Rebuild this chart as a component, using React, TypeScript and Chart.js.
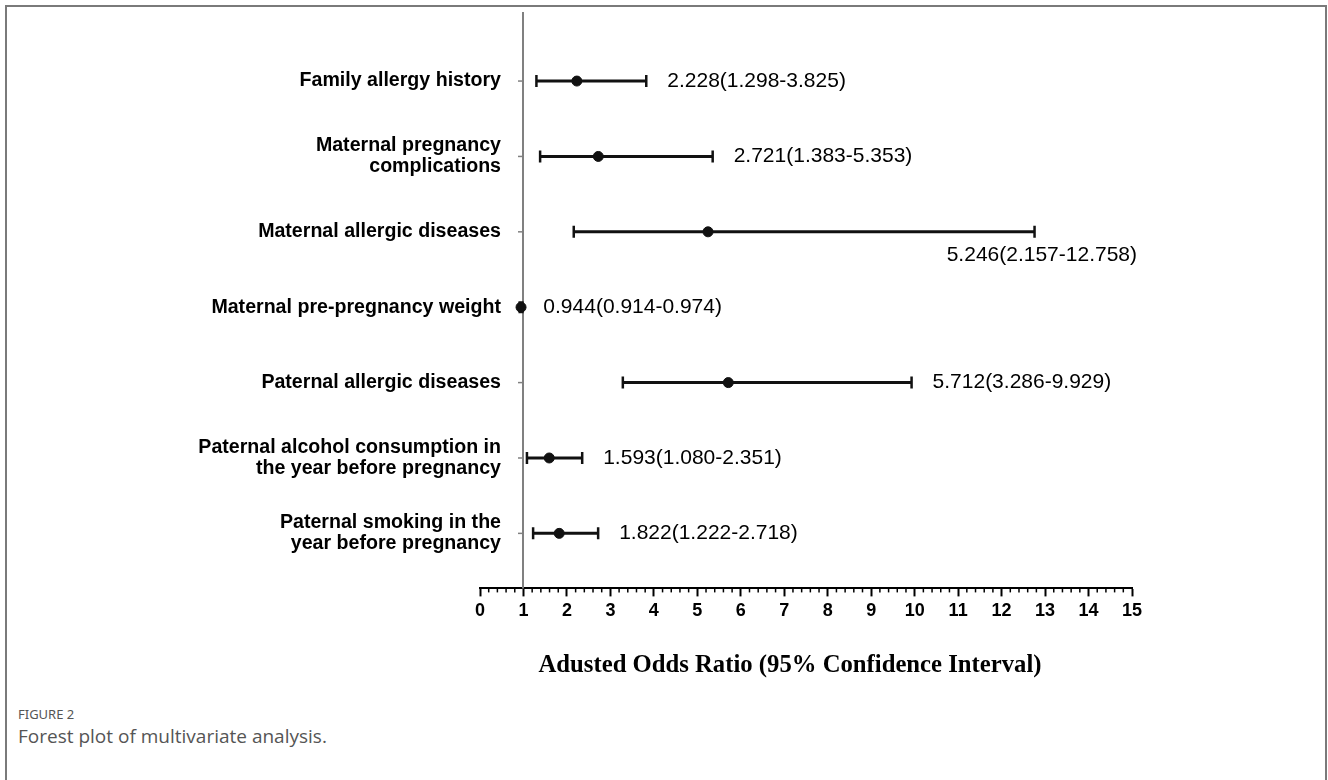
import { useEffect, useRef } from "react";
import { Chart, registerables } from "chart.js";

Chart.register(...registerables);

// Risk factors, top to bottom (multi-line where the label wraps)
const factors: string[][] = [
  ["Family allergy history"],
  ["Maternal pregnancy", "complications"],
  ["Maternal allergic diseases"],
  ["Maternal pre-pregnancy weight"],
  ["Paternal allergic diseases"],
  ["Paternal alcohol consumption in", "the year before pregnancy"],
  ["Paternal smoking in the", "year before pregnancy"],
];

// Adjusted odds ratios with 95% confidence limits
const oddsRatio = [2.228, 2.721, 5.246, 0.944, 5.712, 1.593, 1.822];
const ciLower = [1.298, 1.383, 2.157, 0.914, 3.286, 1.08, 1.222];
const ciUpper = [3.825, 5.353, 12.758, 0.974, 9.929, 2.351, 2.718];

// Value annotation sits under the bar instead of after it
const labelBelow = [false, false, true, false, false, false, false];

const xMin = 0;
const xMax = 15;
const minorStep = 0.2;
const referenceLine = 1;

const axisTitle = "Adusted Odds Ratio (95% Confidence Interval)";

const SANS = '"Liberation Sans", Arial, Helvetica, sans-serif';
const SERIF = '"Liberation Serif", "Times New Roman", Times, serif';
const INK = "#111111";

const fmt = (v: number) => v.toFixed(3);

const forestDecor = {
  id: "forestDecor",
  beforeDatasetsDraw(chart: any) {
    const { ctx, chartArea, scales } = chart;
    const xs = scales.x;
    const ys = scales.y;
    const refX = Math.round(xs.getPixelForValue(referenceLine));
    ctx.save();
    // reference line at OR = 1
    ctx.strokeStyle = "#808080";
    ctx.lineWidth = 2;
    ctx.beginPath();
    ctx.moveTo(refX, chartArea.top);
    ctx.lineTo(refX, chartArea.bottom);
    ctx.stroke();
    // row ticks on the reference line
    ctx.lineWidth = 1.5;
    factors.forEach((_, i) => {
      const y = ys.getPixelForValue(i);
      ctx.beginPath();
      ctx.moveTo(refX - 5, y);
      ctx.lineTo(refX, y);
      ctx.stroke();
    });
    // minor ticks along the x axis
    ctx.strokeStyle = "#000";
    ctx.lineWidth = 1.5;
    const steps = Math.round((xMax - xMin) / minorStep);
    for (let k = 0; k <= steps; k++) {
      const v = xMin + k * minorStep;
      if (Math.abs(v - Math.round(v)) < 1e-6) continue;
      const px = xs.getPixelForValue(v);
      ctx.beginPath();
      ctx.moveTo(px, chartArea.bottom);
      ctx.lineTo(px, chartArea.bottom + 4);
      ctx.stroke();
    }
    // factor names, right-aligned left of the reference line
    ctx.fillStyle = "#000";
    ctx.font = `bold 19.6px ${SANS}`;
    ctx.textAlign = "right";
    ctx.textBaseline = "middle";
    const lineGap = 21;
    factors.forEach((lines, i) => {
      const y = ys.getPixelForValue(i);
      const start = y - ((lines.length - 1) * lineGap) / 2;
      lines.forEach((t, j) => ctx.fillText(t, refX - 22, start + j * lineGap));
    });
    ctx.restore();
  },
  afterDatasetsDraw(chart: any) {
    const { ctx, chartArea, scales } = chart;
    const xs = scales.x;
    const ys = scales.y;
    ctx.save();
    ctx.fillStyle = "#000";
    ctx.font = `21px ${SANS}`;
    ctx.textBaseline = "middle";
    oddsRatio.forEach((v, i) => {
      const text = `${fmt(v)}(${fmt(ciLower[i])}-${fmt(ciUpper[i])})`;
      const y = ys.getPixelForValue(i);
      if (labelBelow[i]) {
        ctx.textAlign = "right";
        ctx.fillText(text, chartArea.right + 5, y + 23);
      } else {
        ctx.textAlign = "left";
        ctx.fillText(text, xs.getPixelForValue(ciUpper[i]) + 21, y);
      }
    });
    // axis title, slightly condensed serif
    ctx.font = `bold 26px ${SERIF}`;
    ctx.textAlign = "center";
    ctx.textBaseline = "middle";
    ctx.translate((chartArea.left + chartArea.right) / 2 - 16, chartArea.bottom + 77);
    ctx.scale(0.95, 1);
    ctx.fillText(axisTitle, 0, 0);
    ctx.restore();
  },
};

export default function App() {
  const canvasRef = useRef<HTMLCanvasElement | null>(null);

  useEffect(() => {
    if (!canvasRef.current) return;

    const ciSets = factors.map((_, i) => ({
      data: [
        { x: ciLower[i], y: i },
        { x: ciUpper[i], y: i },
      ],
      showLine: true,
      borderColor: INK,
      borderWidth: 3,
      pointStyle: "line" as const,
      rotation: 90,
      pointRadius: 6,
      pointBorderWidth: 2.5,
      pointBorderColor: INK,
      pointBackgroundColor: INK,
    }));

    const pointSet = {
      data: oddsRatio.map((v, i) => ({ x: v, y: i })),
      showLine: false,
      pointStyle: "circle" as const,
      pointRadius: 5,
      pointBackgroundColor: INK,
      pointBorderColor: INK,
      pointBorderWidth: 1,
    };

    const chart = new Chart(canvasRef.current, {
      type: "scatter",
      data: { datasets: [...ciSets, pointSet] },
      options: {
        animation: false,
        responsive: false,
        events: [],
        layout: { padding: { left: 480, right: 196, top: 12, bottom: 74 } },
        plugins: { legend: { display: false }, tooltip: { enabled: false } },
        scales: {
          x: {
            type: "linear",
            min: xMin,
            max: xMax,
            border: { display: true, color: "#000", width: 2 },
            grid: {
              display: true,
              drawOnChartArea: false,
              drawTicks: true,
              tickLength: 8,
              tickColor: "#000",
              tickWidth: 2,
            },
            ticks: {
              stepSize: 1,
              autoSkip: false,
              maxRotation: 0,
              padding: 4,
              color: "#000",
              font: { family: SANS, size: 18, weight: "bold" },
            },
            title: { display: false },
          },
          y: {
            type: "linear",
            reverse: true,
            min: -0.916,
            max: 6.73,
            display: false,
          },
        },
      },
      plugins: [forestDecor],
    });

    return () => chart.destroy();
  }, []);

  return (
    <div
      style={{
        position: "absolute",
        left: 0,
        top: 0,
        width: 1328,
        height: 780,
        background: "#fff",
        overflow: "hidden",
      }}
    >
      <div
        style={{
          position: "absolute",
          left: 5,
          top: 5,
          width: 1322,
          height: 820,
          border: "2px solid #7a7a7a",
          boxSizing: "border-box",
        }}
      />
      <canvas
        ref={canvasRef}
        width={1328}
        height={700}
        style={{ position: "absolute", left: 0, top: 0, width: 1328, height: 700 }}
      />
      <div
        style={{
          position: "absolute",
          left: 18,
          top: 705,
          font: '13px "Noto Sans", "Open Sans", sans-serif',
          color: "#555",
        }}
      >
        FIGURE 2
      </div>
      <div
        style={{
          position: "absolute",
          left: 18,
          top: 723,
          font: '19px "Open Sans", "Noto Sans", sans-serif',
          color: "#555",
        }}
      >
        Forest plot of multivariate analysis.
      </div>
    </div>
  );
}
